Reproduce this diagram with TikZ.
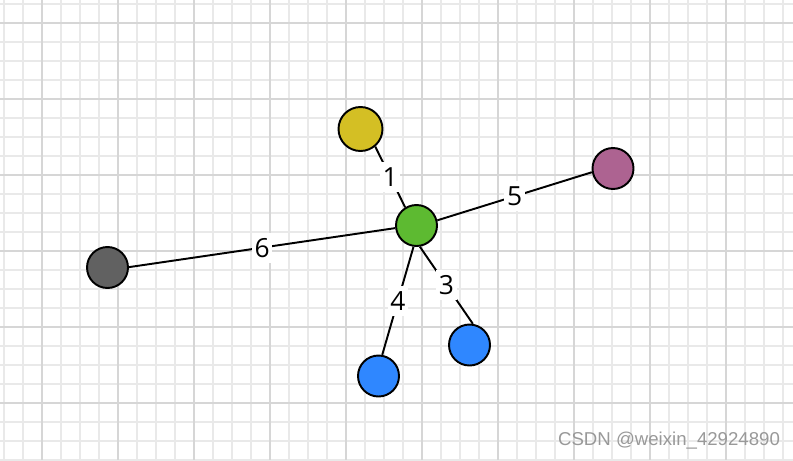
\documentclass[tikz,border=0pt]{standalone}
\usepackage{fontspec}
\setmainfont{Open Sans}
\newfontfamily\markfont{Liberation Sans}
\usepackage{tikz}
\definecolor{gridminor}{HTML}{E9E9E9}
\definecolor{gridmajor}{HTML}{D6D6D6}
\definecolor{nodeyellow}{HTML}{D4BF24}
\definecolor{nodegreen}{HTML}{5DBA31}
\definecolor{nodepurple}{HTML}{AD6391}
\definecolor{nodegrey}{HTML}{616161}
\definecolor{nodeblue}{HTML}{2F87FF}

\begin{document}
\begin{tikzpicture}[x=0.02cm, y=-0.02cm]
    \useasboundingbox (0,0) rectangle (793,460);
    \fill[white] (0,0) rectangle (793,460);
    \foreach \x in {4,23,...,793}{
      \draw [gridminor, line width=0.7pt] (\x,0) -- (\x,460);
    }
    \foreach \y in {4,23,...,460}{
      \draw [gridminor, line width=0.7pt] (0,\y) -- (793,\y);
    }
    \foreach \x in {42,118,...,793}{
      \draw [gridmajor, line width=0.6pt] (\x,0) -- (\x,460);
    }
    \foreach \y in {23,99,...,460}{
      \draw [gridmajor, line width=0.6pt] (0,\y) -- (793,\y);
    }
    \begin{scope}[every node/.style={circle, draw=black, line width=1.1pt, minimum size=0.82cm, inner sep=0pt}]
      \node [fill=nodegreen] (c) at (416.5,225.5) {};
      \node [fill=nodeyellow, minimum size=0.88cm] (n1) at (360.5,129) {};
      \node [fill=nodepurple] (n5) at (613,168.5) {};
      \node [fill=nodegrey] (n6) at (107.5,267.5) {};
      \node [fill=nodeblue] (n3) at (469.5,345) {};
      \node [fill=nodeblue] (n4) at (378.5,376) {};
    \end{scope}
    \begin{scope}[line width=1.1pt, every node/.style={fill=white, inner xsep=1.5pt, inner ysep=3pt, font=\fontsize{15}{15}\selectfont}]
      \draw (n1.-50) -- node {1} (c.122);
      \draw (c.14) -- node {5} (n5.190);
      \draw (n6.1) -- node {6} (c.187);
      \draw (c.279) -- node {3} (n3.81);
      \draw (c.262) -- node {4} (n4.80);
    \end{scope}
    \node [text=gray!80, font=\markfont\fontsize{10.6}{12}\selectfont] (mark) at (669,441) {CSDN @weixin\_42924890};
  \end{tikzpicture}
\end{document}
